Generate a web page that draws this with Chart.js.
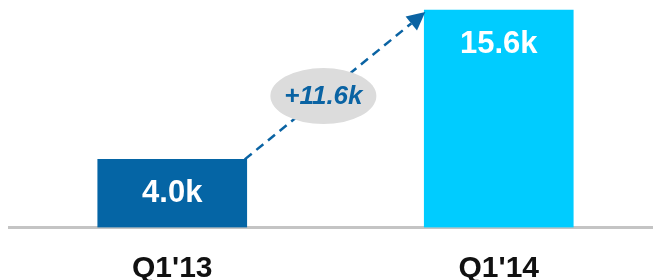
<!DOCTYPE html>
<html>
<head>
<meta charset="utf-8">
<script src="https://cdn.jsdelivr.net/npm/chart.js@4/dist/chart.umd.min.js"></script>
<style>
  html, body { margin: 0; padding: 0; background: #fff; overflow: hidden; }
  #wrap { width: 670px; height: 280px; }
</style>
</head>
<body>
<div id="wrap"><canvas id="growthChart"></canvas></div>
<script>
const quarters = ["Q1'13", "Q1'14"];
const users = [4.0, 15.6];
const valueLabels = ['4.0k', '15.6k'];
const changeLabel = '+11.6k';
const barColors = ['#0565a5', '#00ccff'];

// bar labels, dashed arrow and the change bubble
const annotations = {
    id: 'annotations',
    afterDatasetsDraw(chart) {
        const ctx = chart.ctx;
        const bars = chart.getDatasetMeta(0).data;
        if (bars.length < 2) return;

        ctx.save();
        ctx.fillStyle = '#fff';
        ctx.font = 'bold 31px "Liberation Sans", Arial, sans-serif';
        ctx.textAlign = 'center';
        ctx.textBaseline = 'middle';
        bars.forEach((bar, i) => {
            ctx.fillText(valueLabels[i], bar.x, bar.y + 34);
        });

        const a = bars[0], b = bars[1];
        const x1 = a.x + a.width / 2 - 2, y1 = a.y;
        const x2 = b.x - b.width / 2 + 1, y2 = b.y + 2;
        const ang = Math.atan2(y2 - y1, x2 - x1);
        const headLen = 18, headW = 9;
        const lx = x2 - Math.cos(ang) * headLen, ly = y2 - Math.sin(ang) * headLen;

        ctx.strokeStyle = '#0a63a3';
        ctx.lineWidth = 2.5;
        ctx.setLineDash([9, 6]);
        ctx.beginPath();
        ctx.moveTo(x1, y1);
        ctx.lineTo(lx, ly);
        ctx.stroke();
        ctx.setLineDash([]);

        ctx.fillStyle = '#0a63a3';
        ctx.beginPath();
        ctx.moveTo(x2, y2);
        ctx.lineTo(lx + Math.sin(ang) * headW, ly - Math.cos(ang) * headW);
        ctx.lineTo(lx - Math.sin(ang) * headW, ly + Math.cos(ang) * headW);
        ctx.closePath();
        ctx.fill();

        const t = 0.43;
        const cx = x1 + (x2 - x1) * t + 1, cy = y1 + (y2 - y1) * t;
        ctx.fillStyle = '#dcdcdc';
        ctx.beginPath();
        ctx.ellipse(cx, cy, 53, 28, 0, 0, Math.PI * 2);
        ctx.fill();

        ctx.fillStyle = '#0a63a3';
        ctx.font = 'italic bold 26px "Liberation Sans", Arial, sans-serif';
        ctx.fillText(changeLabel, cx, cy + 1);
        ctx.restore();
    }
};

new Chart(document.getElementById('growthChart').getContext('2d'), {
    type: 'bar',
    data: {
        labels: quarters,
        datasets: [{
            data: users,
            backgroundColor: barColors,
            base: -1.29,
            barThickness: 149,
            borderWidth: 0
        }]
    },
    options: {
        responsive: true,
        maintainAspectRatio: false,
        animation: false,
        layout: { padding: { left: 9, right: 8, top: 0, bottom: 0 } },
        scales: {
            y: { display: false, min: -1.29, max: 16.38 },
            x: {
                grid: { display: false, drawTicks: false },
                border: { display: true, color: '#c4c4c4', width: 3 },
                ticks: {
                    color: '#111',
                    padding: 23,
                    font: { family: '"Liberation Sans", Arial, sans-serif', size: 30, weight: 'bold' }
                },
                afterFit(scale) { scale.height = 52.5; }
            }
        },
        plugins: {
            legend: { display: false },
            tooltip: { enabled: false }
        }
    },
    plugins: [annotations]
});
</script>
</body>
</html>
